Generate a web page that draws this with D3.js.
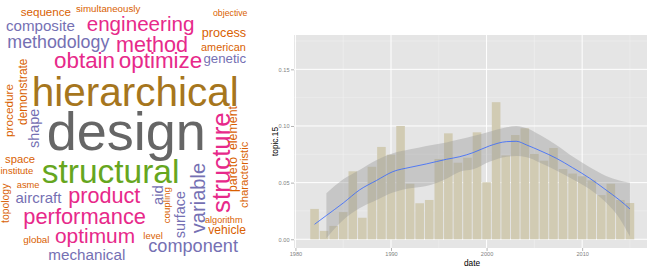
<!DOCTYPE html>
<html>
<head>
<meta charset="utf-8">
<script src="https://cdn.jsdelivr.net/npm/d3@7"></script>
<style>
  body { margin: 0; background: #fff; }
  svg { display: block; font-family: "Liberation Sans", Arial, Helvetica, sans-serif; }
</style>
</head>
<body>
<div id="chart"></div>
<script>
// word cloud: words and their weights
const words = ["design", "hierarchical", "structural", "structure", "obtain", "optimize", "method",
  "product", "performance", "optimum", "engineering", "variable", "methodology", "component",
  "mechanical", "composite", "aircraft", "aid", "shape", "surface", "genetic", "process",
  "pareto", "element", "demonstrate", "vehicle", "procedure", "sequence", "characteristic",
  "american", "space", "topology", "simultaneously", "institute", "level", "asme", "global",
  "coupling", "algorithm", "objective"];
const freq = [100, 75, 62, 48, 41.5, 41.5, 40, 40, 40.5, 38.7, 38.2, 37.3, 33, 33.6, 28.2, 28,
  27.8, 27.3, 26.7, 26.7, 24.5, 23.5, 22.9, 22.9, 22.2, 22.4, 21.8, 21.5, 20.9, 20.2, 20.9,
  19.3, 18, 17.6, 17.6, 17.3, 18.2, 18, 16.9, 16.2];

// placement of the cloud (x, baseline y, rotated?)
const cloudLayout = {
  design: [46.7, 150, 0], hierarchical: [31.7, 106, 0], structural: [41.7, 183.3, 0],
  structure: [229.5, 213, 1], obtain: [54, 68.3, 0], optimize: [118.8, 68.3, 0],
  method: [116, 51.7, 0], product: [68.3, 202.7, 0], performance: [23.3, 224.3, 0],
  optimum: [55, 243.3, 0], engineering: [86.7, 30.7, 0], variable: [205, 233.3, 1],
  methodology: [7.3, 47.7, 0], component: [148.3, 251.7, 0], mechanical: [48.3, 260, 0],
  composite: [6, 30.7, 0], aircraft: [15.5, 202.7, 0], aid: [163, 205, 1], shape: [39, 148, 1],
  surface: [185, 238.3, 1], genetic: [203.5, 62.7, 0], process: [201.7, 37.3, 0],
  pareto: [236.5, 192, 1], element: [236.5, 150, 1], demonstrate: [26.5, 125, 1],
  vehicle: [208.3, 234, 0], procedure: [12.5, 137, 1], sequence: [20.7, 15.7, 0],
  characteristic: [247.5, 208, 1], american: [201, 50.7, 0], space: [5, 163, 0],
  topology: [8.6, 223, 1], simultaneously: [76, 12.3, 0], institute: [0.5, 174.3, 0],
  level: [143.3, 239.3, 0], asme: [16.7, 188.3, 0], global: [23.3, 243.3, 0],
  coupling: [170, 223.3, 1], algorithm: [205, 222.7, 0], objective: [213, 15.7, 0]
};

// topic.15 by year
const years = d3.range(1982, 2016);
const topic15 = [0.0268, 0.0074, 0.0118, 0.024, 0.060, 0.019, 0.064, 0.0815, 0.0747, 0.100,
  0.049, 0.0318, 0.0347, 0.0709, 0.0935, 0.0676, 0.072, 0.0944, 0.0503, 0.121,
  0.074, 0.092, 0.098, 0.0753, 0.0694, 0.0806, 0.062, 0.058, 0.0556, 0.052,
  0.039, 0.049, 0.0347, 0.032];

// loess fit and its confidence band
const fitYears = [1982, 1983.24, 1985, 1986.7, 1988.5, 1990.2, 1992, 1993.7, 1995.8, 1997.2,
  1998.6, 2000.3, 2002.1, 2003.1, 2004.2, 2005.6, 2007.3, 2009, 2010.8, 2012.5, 2013.9, 2015];
const fit = [0.0132, 0.021, 0.032, 0.0435, 0.052, 0.0597, 0.0635, 0.0665, 0.0706, 0.0729,
  0.0765, 0.0824, 0.0862, 0.0865, 0.0832, 0.0782, 0.0715, 0.0632, 0.0538, 0.0435, 0.0347, 0.0268];
const fitHi = [null, 0.0406, 0.053, 0.0612, 0.070, 0.0759, 0.0794, 0.0824, 0.0855, 0.0882,
  0.0912, 0.095, 0.0988, 0.100, 0.098, 0.092, 0.0832, 0.073, 0.0635, 0.0559, 0.0518, 0.050];
const fitLo = [null, 0.001, 0.017, 0.0274, 0.0347, 0.0412, 0.045, 0.047, 0.0535, 0.0597,
  0.0618, 0.0685, 0.0729, 0.0735, 0.0724, 0.0676, 0.0606, 0.0529, 0.0441, 0.0324, 0.0185, 0.0024];

const xTicks = [1980, 1990, 2000, 2010],
  yTicks = [0, 0.05, 0.10, 0.15];

const svg = d3.select("#chart")
  .append("svg")
  .attr("width", 647)
  .attr("height", 268);

// ---- word cloud
const fontSize = d3.scaleLinear().domain([0, 100]).range([0, 54]);
const wordColor = d3.scaleThreshold()
  .domain([24, 38, 60, 70, 90])
  .range(["#d95f02", "#7570b3", "#e7298a", "#66a61e", "#a6761d", "#666666"]);

svg.append("g")
  .selectAll("text")
  .data(words.map((w, i) => ({ word: w, freq: freq[i] })))
  .join("text")
  .attr("transform", d => {
    const p = cloudLayout[d.word];
    return `translate(${p[0]},${p[1]})` + (p[2] ? " rotate(-90)" : "");
  })
  .attr("font-size", d => fontSize(d.freq))
  .attr("fill", d => wordColor(d.freq))
  .text(d => d.word);

// ---- bar chart with smoother
const pLeft = 294, pRight = 650, pTop = 35, pBottom = 248;

const x = d3.scaleLinear().domain([1979.85, 2017.1]).range([pLeft, pRight]);
const y = d3.scaleLinear().domain([-0.0077, 0.1803]).range([pBottom, pTop]);

const plot = svg.append("g");

plot.append("rect")
  .attr("x", pLeft).attr("y", pTop)
  .attr("width", pRight - pLeft).attr("height", pBottom - pTop)
  .attr("fill", "#e5e5e5");

const xMinor = [1985, 1995, 2005, 2015],
  yMinor = [0.025, 0.075, 0.125, 0.175];

plot.append("g").selectAll("line")
  .data(xMinor).join("line")
  .attr("x1", d => x(d)).attr("x2", d => x(d))
  .attr("y1", pTop).attr("y2", pBottom)
  .attr("stroke", "#f2f2f2").attr("stroke-width", 0.5);
plot.append("g").selectAll("line")
  .data(yMinor).join("line")
  .attr("x1", pLeft).attr("x2", pRight)
  .attr("y1", d => y(d)).attr("y2", d => y(d))
  .attr("stroke", "#f2f2f2").attr("stroke-width", 0.5);
plot.append("g").selectAll("line")
  .data(xTicks).join("line")
  .attr("x1", d => x(d)).attr("x2", d => x(d))
  .attr("y1", pTop).attr("y2", pBottom)
  .attr("stroke", "#fff").attr("stroke-width", 1);
plot.append("g").selectAll("line")
  .data(yTicks).join("line")
  .attr("x1", pLeft).attr("x2", pRight)
  .attr("y1", d => y(d)).attr("y2", d => y(d))
  .attr("stroke", "#fff").attr("stroke-width", 1);

plot.append("g")
  .selectAll("rect")
  .data(years.map((yr, i) => ({ year: yr, value: topic15[i] })))
  .join("rect")
  .attr("x", d => x(d.year - 0.45))
  .attr("width", x(0.9) - x(0))
  .attr("y", d => y(d.value))
  .attr("height", d => y(0) - y(d.value))
  .attr("fill", "#d1cbb3");

const fitData = fitYears.map((yr, i) => ({ year: yr, fit: fit[i], lo: fitLo[i], hi: fitHi[i] }));

plot.append("path")
  .datum(fitData.filter(d => d.lo !== null))
  .attr("fill", "#999999")
  .attr("fill-opacity", 0.4)
  .attr("d", d3.area()
    .x(d => x(d.year))
    .y0(d => y(d.lo))
    .y1(d => y(d.hi))
    .curve(d3.curveMonotoneX));

plot.append("path")
  .datum(fitData)
  .attr("fill", "none")
  .attr("stroke", "#3366ff")
  .attr("stroke-width", 0.8)
  .attr("d", d3.line()
    .x(d => x(d.year))
    .y(d => y(d.fit))
    .curve(d3.curveMonotoneX));

// axes
const xAxis = svg.append("g")
  .attr("transform", `translate(0,${pBottom})`)
  .call(d3.axisBottom(x).tickValues(xTicks).tickFormat(d3.format("d")).tickSize(3).tickPadding(1.5));
const yAxis = svg.append("g")
  .attr("transform", `translate(${pLeft},0)`)
  .call(d3.axisLeft(y).tickValues(yTicks).tickFormat(d3.format(".2f")).tickSize(3).tickPadding(1.5));

[xAxis, yAxis].forEach(a => {
  a.select(".domain").remove();
  a.selectAll("line").attr("stroke", "#7f7f7f").attr("stroke-width", 0.6);
  a.selectAll("text")
    .attr("fill", "#7f7f7f")
    .attr("font-size", 5.6)
    .attr("font-family", "'Liberation Sans', Arial, sans-serif");
});

svg.append("text")
  .attr("x", (pLeft + pRight) / 2)
  .attr("y", 265.5)
  .attr("text-anchor", "middle")
  .attr("font-size", 8.3)
  .text("date");

svg.append("text")
  .attr("transform", `translate(278,${(pTop + pBottom) / 2}) rotate(-90)`)
  .attr("text-anchor", "middle")
  .attr("font-size", 8.3)
  .text("topic.15");
</script>
</body>
</html>
